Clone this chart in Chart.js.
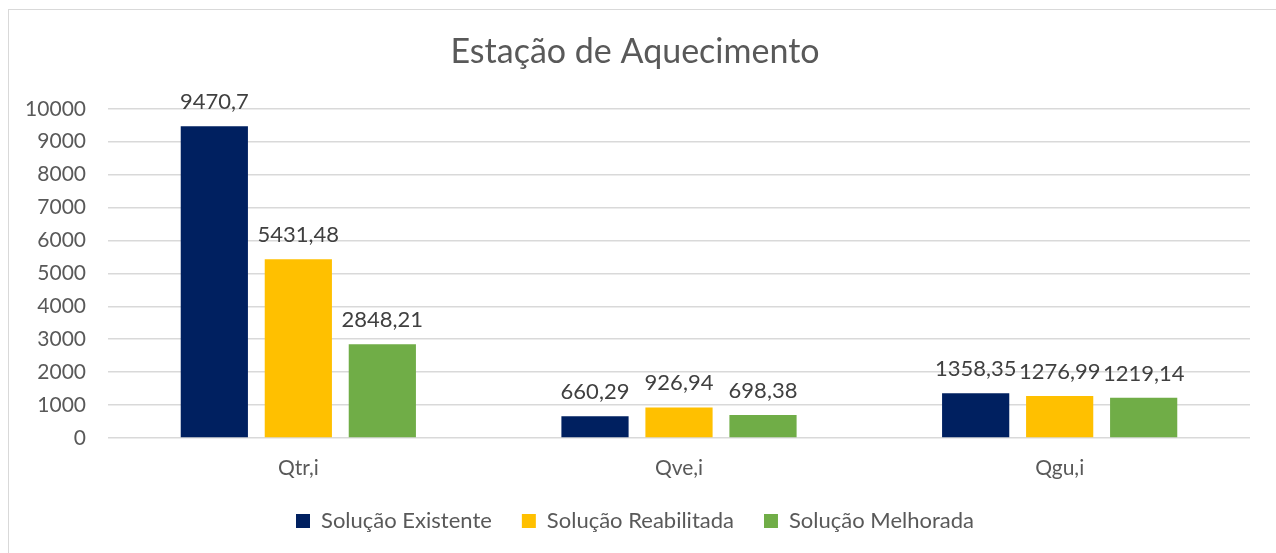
<!DOCTYPE html>
<html>
<head>
<meta charset="utf-8">
<script src="https://cdn.jsdelivr.net/npm/chart.js@4.4.0/dist/chart.umd.min.js"></script>
<style>
  html, body { margin: 0; padding: 0; background: #fff; }
  #frame {
    position: absolute; left: 8px; top: 9px; width: 1300px; height: 600px;
    border: 1px solid #d9d9d9; box-sizing: border-box;
  }
  #wrap { position: absolute; left: 0; top: 0; width: 1276px; height: 553px; }
</style>
</head>
<body>
<div id="frame"></div>
<div id="wrap"><canvas id="heatChart"></canvas></div>
<script>
const categories = ["Qtr,i", "Qve,i", "Qgu,i"];
const seriesNames = ["Solução Existente", "Solução Reabilitada", "Solução Melhorada"];
const existente = [9470.7, 660.29, 1358.35];
const reabilitada = [5431.48, 926.94, 1276.99];
const melhorada = [2848.21, 698.38, 1219.14];
const colors = ["#002060", "#FFC000", "#70AD47"];

const FONT = "Lato, 'Open Sans', sans-serif";

// draws the value on top of each bar, with a comma as decimal mark
const barLabels = {
    id: "barLabels",
    afterDatasetsDraw(chart) {
        const ctx = chart.ctx;
        ctx.save();
        ctx.font = "22px " + FONT;
        ctx.fillStyle = "#404040";
        ctx.textAlign = "center";
        ctx.textBaseline = "alphabetic";
        chart.data.datasets.forEach((ds, i) => {
            const meta = chart.getDatasetMeta(i);
            meta.data.forEach((bar, j) => {
                const txt = String(ds.data[j]).replace(".", ",");
                ctx.fillText(txt, bar.x, bar.y - 17);
            });
        });
        ctx.restore();
    },
};

const ctx = document.getElementById("heatChart").getContext("2d");
new Chart(ctx, {
    type: "bar",
    data: {
        labels: categories,
        datasets: [
            { label: seriesNames[0], data: existente, backgroundColor: colors[0] },
            { label: seriesNames[1], data: reabilitada, backgroundColor: colors[1] },
            { label: seriesNames[2], data: melhorada, backgroundColor: colors[2] },
        ],
    },
    options: {
        responsive: true,
        maintainAspectRatio: false,
        animation: false,
        layout: { padding: { left: 20, right: 26, top: 0, bottom: 11 } },
        datasets: {
            bar: { barPercentage: 0.8, categoryPercentage: 0.662 },
        },
        scales: {
            x: {
                grid: { display: false, drawTicks: false },
                border: { display: false },
                ticks: { color: "#595959", font: { family: FONT, size: 21 }, padding: 18 },
                afterFit(scale) { scale.height = 42; },
            },
            y: {
                min: 0,
                max: 10000,
                ticks: {
                    stepSize: 1000,
                    color: "#595959",
                    font: { family: FONT, size: 21 },
                    padding: 22,
                    callback: (v) => String(v),
                },
                grid: { color: "#d9d9d9", lineWidth: 1.5, drawTicks: false },
                border: { display: false },
                afterFit(scale) { scale.width = 88; },
            },
        },
        plugins: {
            title: {
                display: true,
                text: "Estação de Aquecimento",
                color: "#595959",
                font: { family: FONT, size: 34, weight: "normal" },
                padding: { top: 32, bottom: 36 },
            },
            legend: {
                position: "bottom",
                labels: {
                    color: "#595959",
                    font: { family: FONT, size: 22 },
                    boxWidth: 14,
                    boxHeight: 14,
                    padding: 30,
                },
            },
            tooltip: { enabled: false },
        },
    },
    plugins: [barLabels],
});
</script>
</body>
</html>
